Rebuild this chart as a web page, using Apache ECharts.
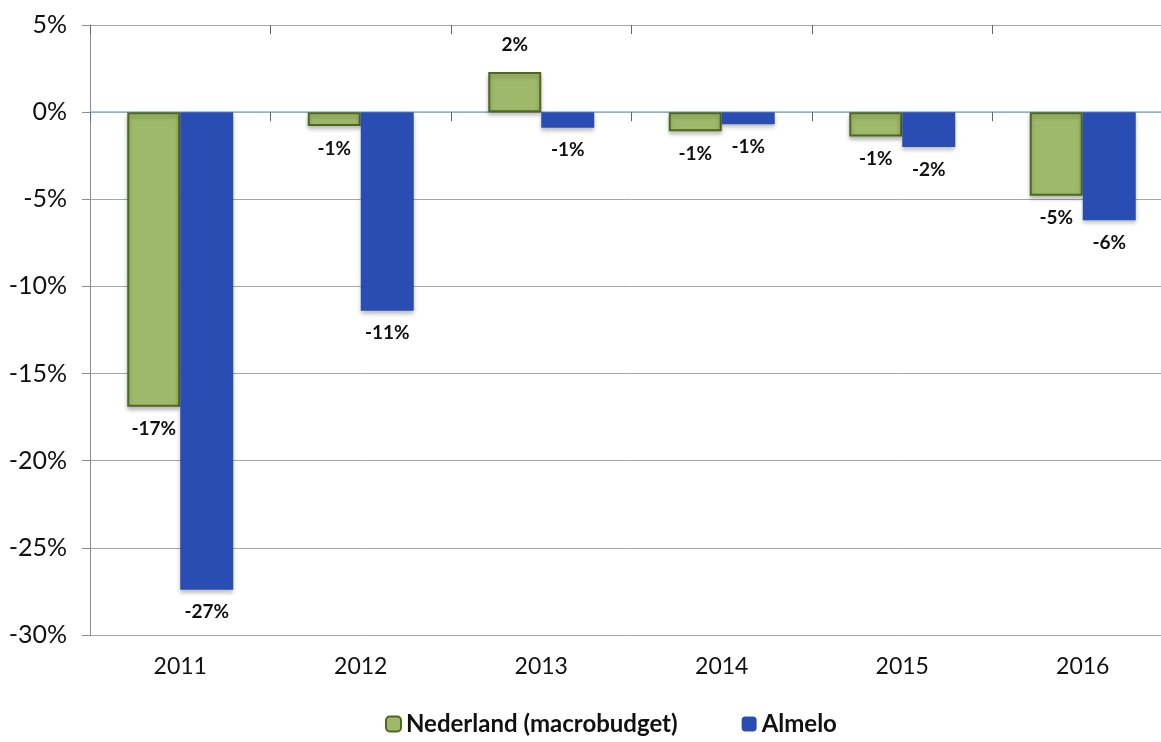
<!DOCTYPE html>
<html>
<head>
<meta charset="utf-8">
<style type="text/css">
  html, body { margin: 0; padding: 0; background: #fff; overflow: hidden; }
  #chart { width: 1173px; height: 742px; }
</style>
<script type="text/javascript" src="https://cdn.jsdelivr.net/npm/echarts@6/dist/echarts.min.js"></script>
</head>
<body>
<div id="chart"></div>
<script type="text/javascript">
// data
var years = ['2011', '2012', '2013', '2014', '2015', '2016'];
var nederland = [-16.9, -0.8, 2.3, -1.1, -1.4, -4.8];
var almelo = [-27.4, -11.4, -0.9, -0.7, -2.0, -6.2];
var seriesNames = ['Nederland (macrobudget)', 'Almelo'];

// chart is a bit wider than the window: the plot runs off the right edge
var chart = echarts.init(document.getElementById('chart'));

var font = 'Lato, "Open Sans", sans-serif';

function pct(p) {
    return Math.round(p.value) + '%';
}

var labelStyle = {
    show: true,
    formatter: pct,
    fontFamily: font,
    fontWeight: 'bold',
    fontSize: 19,
    color: '#111',
    distance: 13
};

var option = {
    animation: false,
    grid: {
        left: 90,
        top: 25,
        right: 0,
        bottom: 107
    },
    legend: {
        bottom: 1,
        left: 380,
        itemWidth: 15,
        itemHeight: 15,
        itemGap: 64,
        textStyle: { fontFamily: font, fontSize: 24, fontWeight: 'bold', color: '#111' },
        data: seriesNames
    },
    xAxis: [{
        // category line on zero, ticks downwards
        type: 'category',
        data: years,
        axisLine: { onZero: true, lineStyle: { color: '#8fb4da', width: 1.5 } },
        axisTick: { show: true, length: 9, lineStyle: { color: '#666' } },
        axisLabel: { show: false },
        splitLine: { show: false }
    }, {
        // ticks upwards on zero line
        type: 'category',
        data: years,
        axisLine: { show: false, onZero: true },
        axisTick: { show: true, inside: true, length: 9, lineStyle: { color: '#666' } },
        axisLabel: { show: false }
    }, {
        // labels at the bottom
        type: 'category',
        data: years,
        position: 'bottom',
        axisLine: { show: false, onZero: false },
        axisTick: { show: false },
        axisLabel: { margin: 20, fontFamily: font, fontSize: 23, color: '#111' }
    }],
    yAxis: {
        type: 'value',
        min: -30,
        max: 5,
        interval: 5,
        axisLine: { show: true, lineStyle: { color: '#8c8c8c' } },
        axisTick: { show: true, length: 8, lineStyle: { color: '#8c8c8c' } },
        axisLabel: {
            formatter: '{value}%',
            margin: 23,
            fontFamily: font,
            fontSize: 25,
            color: '#111'
        },
        splitLine: { lineStyle: { color: '#a6a6a6' } }
    },
    series: [{
        name: seriesNames[0],
        type: 'bar',
        data: nederland,
        barWidth: 53,
        barGap: '0%',
        itemStyle: {
            color: '#9fb96a',
            borderColor: '#4d6820',
            borderWidth: 2,
            shadowBlur: 4,
            shadowOffsetY: 3,
            shadowColor: 'rgba(0,0,0,0.25)'
        },
        label: Object.assign({}, labelStyle, { position: 'bottom' })
    }, {
        name: seriesNames[1],
        type: 'bar',
        data: almelo,
        barWidth: 53,
        barGap: '0%',
        itemStyle: {
            color: '#2a4db3',
            shadowBlur: 4,
            shadowOffsetY: 3,
            shadowColor: 'rgba(0,0,0,0.25)'
        },
        label: Object.assign({}, labelStyle, { position: 'bottom' })
    }]
};

// positive bars get their label on top
option.series.forEach(function (s) {
    s.data = s.data.map(function (v) {
        return v > 0 ? { value: v, label: { position: 'top', distance: 18 } } : v;
    });
});

chart.setOption(option);
</script>
</body>
</html>
